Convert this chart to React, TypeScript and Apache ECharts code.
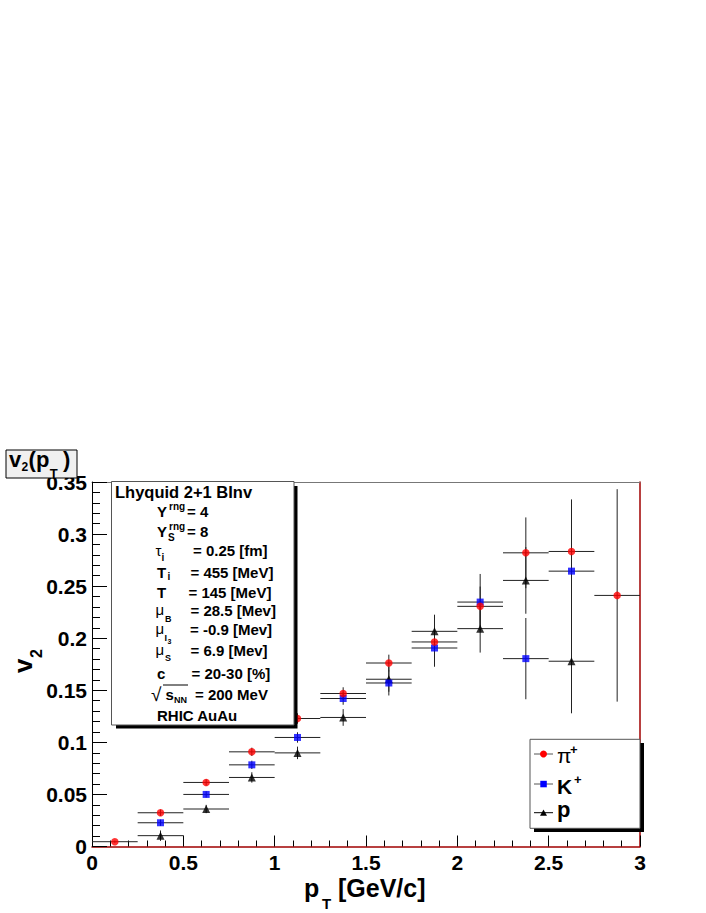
import React, { useEffect, useRef } from 'react';
import * as echarts from 'echarts';

// ---- data ----
const binCenters = [0.125, 0.375, 0.625, 0.875, 1.125, 1.375, 1.625, 1.875, 2.125, 2.375, 2.625, 2.875];
const binHalfWidth = 0.125;
const pionV2 = [0.0046, 0.0324, 0.0615, 0.0909, 0.1229, 0.1469, 0.1762, 0.1964, 0.2306, 0.2820, 0.2833, 0.2411];
const pionErr = [0.001, 0.003, 0.003, 0.004, 0.005, 0.006, 0.008, 0.011, 0.019, 0.034, 0.050, 0.102];
const kaonPt = [0.375, 0.625, 0.875, 1.125, 1.375, 1.625, 1.875, 2.125, 2.375, 2.625];
const kaonV2 = [0.0228, 0.0500, 0.0784, 0.1047, 0.1421, 0.1570, 0.1906, 0.2347, 0.1804, 0.2644];
const kaonErr = [0.003, 0.003, 0.004, 0.005, 0.006, 0.012, 0.018, 0.027, 0.039, 0.040];
const protonPt = [0.375, 0.625, 0.875, 1.125, 1.375, 1.625, 1.875, 2.125, 2.375, 2.625];
const protonV2 = [0.0104, 0.0360, 0.0663, 0.0899, 0.1239, 0.1606, 0.2066, 0.2092, 0.2555, 0.1779];
const protonErr = [0.005, 0.004, 0.005, 0.006, 0.008, 0.012, 0.016, 0.023, 0.032, 0.050];

const FF = '"Liberation Sans", Arial, sans-serif';

function txt(x: number, y: number, text: string, size: number, bold = true, extra: any = {}) {
  return {
    type: 'text',
    x,
    y,
    z: 100,
    ...extra,
    style: {
      text,
      x: 0,
      y: 0,
      font: `${bold ? 'bold ' : ''}${size}px ${FF}`,
      fill: '#000',
      textAlign: 'left',
      textVerticalAlign: 'middle',
      align: 'left',
      verticalAlign: 'middle',
    },
  };
}

function errorSeries(name: string, xs: number[], ys: number[], es: number[]) {
  return {
    name: name + ' err',
    type: 'custom',
    z: 2,
    silent: true,
    data: xs.map((x, i) => [x, ys[i], es[i], binHalfWidth]),
    encode: { x: 0, y: 1 },
    renderItem: (params: any, api: any) => {
      const x = api.value(0);
      const y = api.value(1);
      const e = api.value(2);
      const hw = api.value(3);
      const l = api.coord([x - hw, y]);
      const r = api.coord([x + hw, y]);
      const t = api.coord([x, y + e]);
      const b = api.coord([x, y - e]);
      const style = { stroke: '#222', lineWidth: 1 };
      return {
        type: 'group',
        children: [
          { type: 'line', shape: { x1: l[0], y1: l[1], x2: r[0], y2: r[1] }, style },
          { type: 'line', shape: { x1: t[0], y1: t[1], x2: b[0], y2: b[1] }, style },
        ],
      };
    },
  };
}

const fmt = (v: number) => String(parseFloat(v.toFixed(3)));

export default function App() {
  const ref = useRef<HTMLDivElement>(null);
  useEffect(() => {
    const chart = echarts.init(ref.current!, null, { renderer: 'svg' });
    const labelStyle = { fontSize: 21, fontWeight: 'bold', fontFamily: FF, color: '#000' };
    const graphics: any[] = [
      // title box
      { type: 'rect', z: 100, shape: { x: 6, y: 450, width: 71, height: 28 }, style: { fill: '#f0f0f0', stroke: '#000', lineWidth: 1 } },
      txt(9, 459.5, 'v', 22),
      txt(21.6, 467, '2', 12),
      txt(28.6, 459.5, '(p', 22),
      txt(49.8, 473, 'T', 13),
      txt(63, 459.5, ')', 22),
      // y axis title (rotated)
      txt(23, 673, 'v', 26, true, { rotation: Math.PI / 2 }),
      txt(36, 658, '2', 16, true, { rotation: Math.PI / 2 }),
      // x axis title
      txt(304, 888, 'p', 25),
      txt(322, 903, 'T', 15),
      txt(338, 888, '[GeV/c]', 25),
      // info box
      { type: 'rect', z: 99, shape: { x: 116, y: 486, width: 181.5, height: 242.5 }, style: { fill: '#000' } },
      { type: 'rect', z: 99, shape: { x: 111.5, y: 481.5, width: 182.5, height: 243.5 }, style: { fill: '#fff', stroke: '#555', lineWidth: 1 } },
      txt(115, 491.7, 'Lhyquid 2+1 BInv', 16.5),
      txt(157, 511.7, 'Y', 15), txt(169, 506, 'rng', 10), txt(187, 511.7, '= 4', 15),
      txt(157, 531.7, 'Y', 15), txt(169, 526.5, 'rng', 10), txt(168, 537.5, 'S', 10), txt(187, 531.7, '= 8', 15),
      txt(155.5, 550, 'τ', 15, false), txt(161.5, 557, 'i', 10), txt(193, 550, '= 0.25 [fm]', 15),
      txt(157, 572, 'T', 15), txt(167.5, 576, 'i', 10), txt(190.5, 572, '= 455 [MeV]', 15),
      txt(157, 592.7, 'T', 15), txt(188.5, 592.7, '= 145 [MeV]', 15),
      txt(155.5, 609, 'μ', 15, false), txt(165, 618.5, 'B', 9), txt(190.5, 610.7, '= 28.5 [Mev]', 15),
      txt(155.5, 628, 'μ', 15, false), txt(164.5, 637.5, 'I', 9), txt(167.5, 641, '3', 7), txt(190, 629, '= -0.9 [Mev]', 15),
      txt(155.5, 649, 'μ', 15, false), txt(165, 658, 'S', 9), txt(190.5, 650, '= 6.9 [Mev]', 15),
      txt(157, 673.3, 'c', 15), txt(191.5, 673.3, '= 20-30 [%]', 15),
      txt(151, 694, '√', 19, false), { type: 'line', z: 100, shape: { x1: 163, y1: 685, x2: 188, y2: 685 }, style: { stroke: '#000', lineWidth: 1 } },
      txt(165.5, 694, 's', 15), txt(174, 700, 'NN', 9), txt(195, 694, '= 200 MeV', 15),
      txt(157, 715, 'RHIC AuAu', 15),
      // legend box
      { type: 'rect', z: 99, shape: { x: 534, y: 743, width: 110, height: 89 }, style: { fill: '#000' } },
      { type: 'rect', z: 99, shape: { x: 530, y: 739.3, width: 110, height: 89 }, style: { fill: '#fff', stroke: '#555', lineWidth: 1 } },
      { type: 'line', z: 100, shape: { x1: 534, y1: 754, x2: 553, y2: 754 }, style: { stroke: '#555', lineWidth: 1 } },
      { type: 'circle', z: 101, shape: { cx: 543.5, cy: 754, r: 3.5 }, style: { fill: '#ff0000' } },
      { type: 'line', z: 100, shape: { x1: 534, y1: 784, x2: 553, y2: 784 }, style: { stroke: '#555', lineWidth: 1 } },
      { type: 'rect', z: 101, shape: { x: 540.3, y: 780.8, width: 6.5, height: 6.5 }, style: { fill: '#0000ff' } },
      { type: 'line', z: 100, shape: { x1: 534, y1: 812.7, x2: 553, y2: 812.7 }, style: { stroke: '#000', lineWidth: 1 } },
      { type: 'polygon', z: 101, shape: { points: [[540, 815.7], [547, 815.7], [543.5, 809.5]] }, style: { fill: '#000' } },
      txt(557, 755, 'π', 21, false), txt(570, 749, '+', 13),
      txt(557, 786.5, 'K', 21), txt(574, 779.5, '+', 13),
      txt(557, 809, 'p', 22),
    ];

    chart.setOption({
      animation: false,
      backgroundColor: '#fff',
      grid: { left: 92, right: 66, top: 482, bottom: 66.5, containLabel: false },
      xAxis: [
        {
          type: 'value', min: 0, max: 3, interval: 0.5, position: 'bottom',
          axisLine: { show: true, onZero: false, lineStyle: { color: '#a00000', width: 1.5 } },
          axisTick: { show: true, inside: true, length: 11, lineStyle: { color: '#000' } },
          minorTick: { show: true, splitNumber: 5, length: 6, lineStyle: { color: '#000' } },
          splitLine: { show: false }, minorSplitLine: { show: false },
          axisLabel: { ...labelStyle, margin: 5, formatter: fmt },
        },
        {
          type: 'value', min: 0, max: 3, position: 'top',
          axisLine: { show: true, onZero: false, lineStyle: { color: '#777', width: 1 } },
          axisTick: { show: false }, axisLabel: { show: false }, splitLine: { show: false },
        },
      ],
      yAxis: [
        {
          type: 'value', min: 0, max: 0.35, interval: 0.05, position: 'left',
          axisLine: { show: true, onZero: false, lineStyle: { color: '#000', width: 1 } },
          axisTick: { show: true, inside: true, length: 15, lineStyle: { color: '#000' } },
          minorTick: { show: true, splitNumber: 5, length: 8, lineStyle: { color: '#000' } },
          splitLine: { show: false }, minorSplitLine: { show: false },
          axisLabel: { ...labelStyle, margin: 5, formatter: fmt },
        },
        {
          type: 'value', min: 0, max: 0.35, position: 'right',
          axisLine: { show: true, onZero: false, lineStyle: { color: '#a00000', width: 1.5 } },
          axisTick: { show: false }, axisLabel: { show: false }, splitLine: { show: false },
        },
      ],
      series: [
        errorSeries('p', protonPt, protonV2, protonErr),
        errorSeries('K+', kaonPt, kaonV2, kaonErr),
        errorSeries('π+', binCenters, pionV2, pionErr),
        {
          name: 'p', type: 'scatter', symbol: 'triangle', symbolSize: 8, z: 3,
          itemStyle: { color: '#000' },
          data: protonPt.map((x, i) => [x, protonV2[i]]),
        },
        {
          name: 'K+', type: 'scatter', symbol: 'rect', symbolSize: 7, z: 3,
          itemStyle: { color: '#0000ff' },
          data: kaonPt.map((x, i) => [x, kaonV2[i]]),
        },
        {
          name: 'π+', type: 'scatter', symbol: 'circle', symbolSize: 7.5, z: 3,
          itemStyle: { color: '#ff0000' },
          data: binCenters.map((x, i) => [x, pionV2[i]]),
        },
      ],
      graphic: { elements: graphics },
    });
    return () => chart.dispose();
  }, []);
  return <div ref={ref} style={{ position: 'absolute', left: 0, top: 0, width: 706, height: 913 }} />;
}
